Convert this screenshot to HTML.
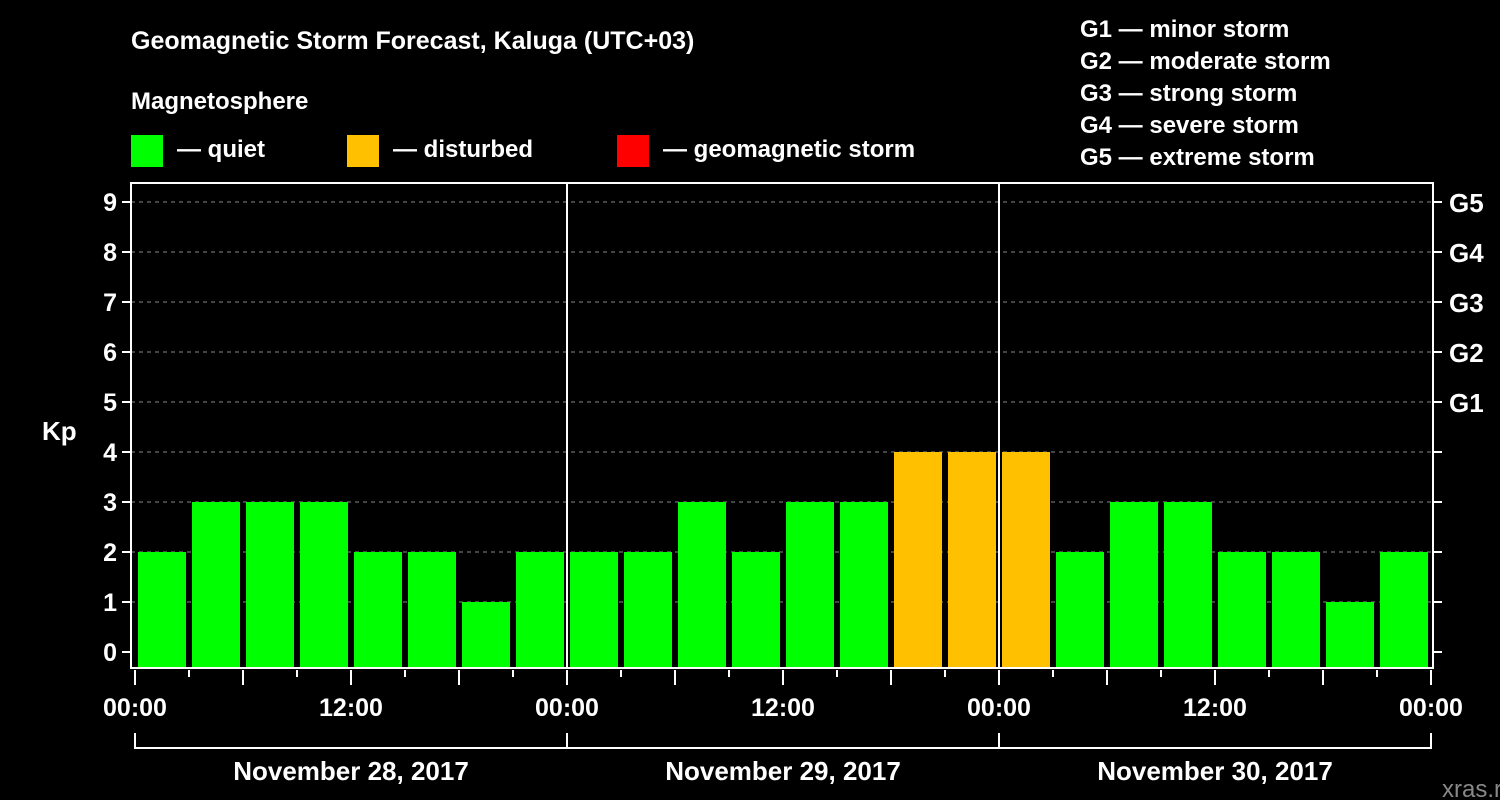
<!DOCTYPE html>
<html><head><meta charset="utf-8"><style>
html,body{margin:0;padding:0;background:#000;}
svg{display:block;font-family:"Liberation Sans",sans-serif;font-weight:bold;}
</style></head><body>
<svg id="chart" width="1500" height="800" viewBox="0 0 1500 800">
<rect x="0" y="0" width="1500" height="800" fill="#000"/>
<text x="131" y="49" fill="#fff" font-size="25">Geomagnetic Storm Forecast, Kaluga (UTC+03)</text>
<text x="131" y="109" fill="#fff" font-size="24">Magnetosphere</text>
<g><rect x="131" y="135" width="32" height="32" fill="#00ff00"/><text x="177" y="157" fill="#fff" font-size="24">— quiet</text></g>
<g><rect x="347" y="135" width="32" height="32" fill="#ffc000"/><text x="393" y="157" fill="#fff" font-size="24">— disturbed</text></g>
<g><rect x="617" y="135" width="32" height="32" fill="#ff0000"/><text x="663" y="157" fill="#fff" font-size="24">— geomagnetic storm</text></g>
<g fill="#fff" font-size="24">
<text x="1080" y="37">G1 — minor storm</text>
<text x="1080" y="69">G2 — moderate storm</text>
<text x="1080" y="101">G3 — strong storm</text>
<text x="1080" y="133">G4 — severe storm</text>
<text x="1080" y="165">G5 — extreme storm</text>
</g>
<text x="42" y="440" fill="#fff" font-size="26">Kp</text>
<text x="1442" y="797" fill="#888" font-size="24" font-weight="normal">xras.ru</text>
<g id="grid"></g><g id="bars"></g><g id="axes"></g>
</svg>
<script>
const kpValues=[2,3,3,3,2,2,1,2, 2,2,3,2,3,3,4,4, 4,2,3,3,2,2,1,2];
const dayLabels=["November 28, 2017","November 29, 2017","November 30, 2017"];
const yTicks=[0,1,2,3,4,5,6,7,8,9];
const gLabels=["G1","G2","G3","G4","G5"];
const timeLabels=["00:00","06:00","12:00","18:00"];
const NS="http://www.w3.org/2000/svg";
const L=131,R=1433,T=183,B=668,X0=135,HOUR=18;
const yS=v=>652-50*v;
const xS=h=>X0+h*HOUR;
function mk(tag,at,parent,txt){const e=document.createElementNS(NS,tag);for(const k in at)e.setAttribute(k,at[k]);if(txt!==undefined)e.textContent=txt;document.getElementById(parent).appendChild(e);return e;}
yTicks.forEach(v=>{
 if(v>0){const g=mk('line',{x1:L,x2:R,y1:yS(v),y2:yS(v),stroke:'#888','stroke-dasharray':'4,4','stroke-width':1},'grid');
 
 }
 const t=mk('line',{x1:L-9,x2:L,y1:yS(v),y2:yS(v),stroke:'#fff','stroke-width':2},'axes');
 
 
 const l=mk('text',{x:L-14,y:yS(v)+9,fill:'#fff','font-size':25,'text-anchor':'end'},'axes',String(v));
 
 
 const r=mk('line',{x1:R,x2:R+9,y1:yS(v),y2:yS(v),stroke:'#fff','stroke-width':2},'axes');
 
 
});
gLabels.forEach((g,i)=>{
 const t=mk('text',{x:R+16,y:yS(5+i)+10,fill:'#fff','font-size':26},'axes',g);
 
 
});
kpValues.forEach((v,i)=>{
 const x=xS(i*3)+3;
 const col=v>=5?'#ff0000':(v>=4?'#ffc000':'#00ff00');
 const b=mk('rect',{x:x,y:yS(v),width:48,height:B-yS(v),fill:col},'bars');
 
 
});
const frame=mk('rect',{x:L,y:T,width:R-L,height:B-T,fill:'none',stroke:'#fff','stroke-width':2},'axes');


for(let d=1;d<dayLabels.length;d++){
 const s=mk('line',{x1:xS(d*24),x2:xS(d*24),y1:T,y2:B,stroke:'#fff','stroke-width':2},'axes');
 
 
}
for(let h=0;h<=72;h+=3){
 const major=h%6===0;
 const t=mk('line',{x1:xS(h),x2:xS(h),y1:B+2,y2:B+(major?17:9),stroke:'#fff','stroke-width':2},'axes');
 
 
 if(h%12===0){
  const l=mk('text',{x:xS(h),y:716,fill:'#fff','font-size':25,'text-anchor':'middle'},'axes',timeLabels[(h%24)/6]);
  
  
 }
}
const br=mk('path',{d:`M${xS(0)},733 V748 H${xS(72)} V733`,fill:'none',stroke:'#fff','stroke-width':2},'axes');


dayLabels.forEach((d,i)=>{
 if(i>0){const v=mk('line',{x1:xS(i*24),x2:xS(i*24),y1:733,y2:748,stroke:'#fff','stroke-width':2},'axes');
 
 }
 const t=mk('text',{x:xS(i*24+12),y:780,fill:'#fff','font-size':26,'text-anchor':'middle'},'axes',d);
 
 
});
</script>
</body></html>
